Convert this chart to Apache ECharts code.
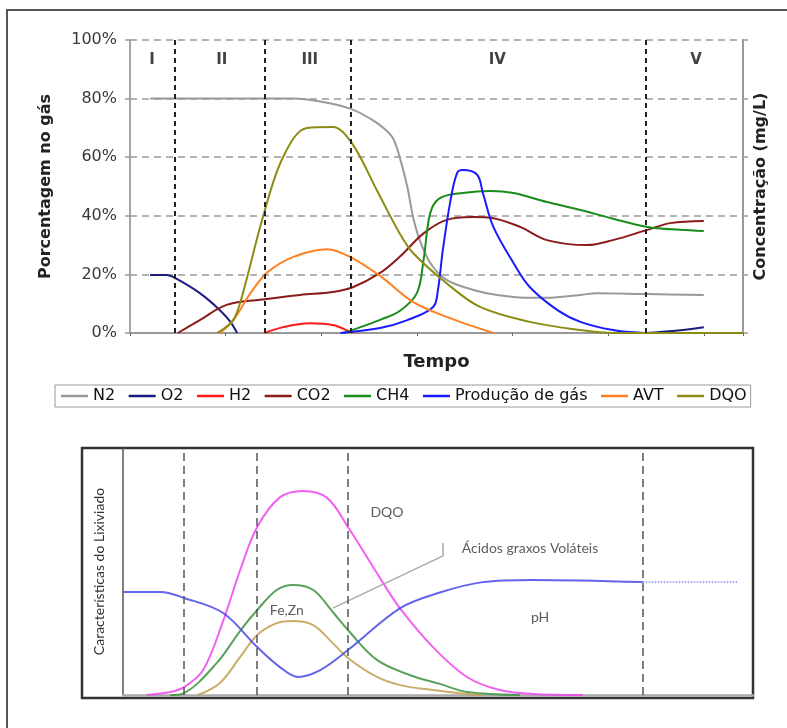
<!DOCTYPE html>
<html>
<head>
<meta charset="utf-8">
<script src="https://cdn.jsdelivr.net/npm/echarts@6/dist/echarts.min.js"></script>
<style>
  html, body { margin: 0; background: #fff; }
  #chart { width: 787px; height: 728px; }
</style>
</head>
<body>
<div id="chart"></div>
<script>
// ---- top chart: gas composition per phase (x = tempo, arbitrary units) ----
const phaseBounds = [0.47, 1.41, 2.31, 5.39];
const phaseNames = ['I', 'II', 'III', 'IV', 'V'];
const phaseNamePos = [0.23, 0.96, 1.88, 3.84, 5.92];
const pctTicks = [0, 20, 40, 60, 80, 100];

const n2T = [0.21, 0.8, 1.4, 1.71, 1.99, 2.31, 2.52, 2.65, 2.75, 2.82, 2.9, 2.96, 3.03, 3.14, 3.31, 3.59, 3.84, 4.18, 4.36, 4.71, 4.88, 5.41, 6.0];
const n2V = [80, 80, 80, 80, 79, 76.5, 73, 70, 66.5, 60, 49.9, 39.6, 31.7, 23.9, 18.1, 14.7, 13, 12, 12, 13, 13.6, 13.3, 13];

const o2T = [0.21, 0.38, 0.47, 0.73, 0.94, 1.05, 1.12, 1.2, 5.39, 5.7, 6.0];
const o2V = [19.8, 19.8, 18.8, 13.6, 7.8, 3.8, 0, '-', 0, 0.8, 2];

const h2T = [1.41, 1.6, 1.88, 2.12, 2.3, 2.33];
const h2V = [0, 2, 3.3, 2.7, 0.5, 0];

const co2T = [0.5, 0.73, 1.01, 1.41, 1.78, 2.12, 2.33, 2.615, 2.82, 3.07, 3.31, 3.59, 3.8, 4.08, 4.36, 4.78, 5.05, 5.41, 5.65, 6.0];
const co2V = [0, 4.4, 9.6, 11.5, 13, 14, 15.6, 20.5, 26, 34, 38.6, 39.6, 39.2, 36.2, 31.7, 30, 31.7, 35.2, 37.5, 38.2];

const ch4T = [2.23, 2.47, 2.615, 2.82, 3.0, 3.07, 3.14, 3.24, 3.48, 3.77, 4.01, 4.36, 4.71, 5.05, 5.41, 5.75, 6.0];
const ch4V = [0, 2.7, 4.5, 7.5, 13.6, 25, 41, 46, 47.8, 48.5, 47.8, 44.7, 42, 39, 36.2, 35.2, 34.8];

const gasT = [2.2, 2.615, 2.9, 3.17, 3.22, 3.27, 3.35, 3.42, 3.48, 3.63, 3.69, 3.8, 4.01, 4.18, 4.47, 4.71, 5.05, 5.37];
const gasV = [0, 1.7, 4.4, 8.9, 14.7, 28, 45, 54.6, 55.6, 54, 47.8, 36.2, 23.9, 15.7, 7.8, 3.8, 1, 0];

const avtT = [0.94, 1.08, 1.26, 1.44, 1.71, 2.06, 2.3, 2.615, 2.96, 3.31, 3.8];
const avtV = [0, 4.4, 13.6, 20.8, 26, 28.6, 26, 19.5, 10.6, 5.5, 0];

const dqoT = [0.91, 1.08, 1.18, 1.39, 1.6, 1.85, 2.12, 2.32, 2.58, 2.82, 2.96, 3.31, 3.66, 4.18, 4.71, 5.05, 6.41];
const dqoV = [0, 4.4, 13.6, 39.6, 60, 70, 70.3, 64.8, 48.8, 34, 27.3, 17, 8.9, 3.8, 1, 0, 0];

// ---- bottom chart: leachate characteristics ----
const lixBounds = [9.7, 21.3, 35.7, 82.5];

const lixDqoU = [3.8, 7.5, 9.7, 12.7, 15.9, 18.6, 21.3, 24.9, 28.6, 32.4, 35.7, 41.3, 44, 49.2, 54.6, 59.8, 65.1, 73];
const lixDqoV = [0, 1.2, 3.2, 10, 30, 50.6, 68, 80, 82.6, 79.8, 68, 45.3, 35, 19.4, 7.3, 2, 0.4, 0];

const acidosU = [7.5, 9.7, 14.9, 18.6, 21.3, 24.4, 27, 30.2, 33.3, 35.7, 40.3, 45.6, 50.3, 54.6, 63];
const acidosV = [0, 0.8, 13, 26, 34.4, 42.5, 44.5, 42.5, 33.6, 26.3, 14.2, 8, 4.5, 1.2, 0];

const feznU = [11.9, 15.4, 18.6, 21.3, 24.4, 27, 30.2, 33.3, 35.7, 40.3, 44, 49.2, 54.6, 57];
const feznV = [0, 4.9, 15.4, 24.3, 29.1, 30, 28.3, 21, 15, 7.3, 4, 2, 0.4, 0];

const phU = [0, 5.9, 9.7, 15.9, 21.3, 24.9, 27.8, 31.3, 35.7, 44, 50.3, 57.1, 65.1, 82.5];
const phV = [41.7, 41.7, 39.3, 33.2, 19.4, 11.3, 7.3, 10.1, 18.2, 35.2, 41.5, 45.7, 46.6, 45.7];
const phDotU = [82.5, 97.5];
const phDotV = [45.7, 45.7];

const lixLabels = ['DQO', 'Ácidos graxos Voláteis', 'Fe,Zn', 'pH'];
const lixLabelU = [41.9, 64.6, 26, 66.2];
const lixLabelV = [73.7, 59.5, 34.4, 31.2];
const leaderU = [33.3, 50.8, 50.8];
const leaderV = [35.2, 56.3, 61.5];

const pairs = (xs, ys) => xs.map((x, i) => [x, ys[i]]);

const chart = echarts.init(document.getElementById('chart'));

const topLine = (name, xs, ys, color) => ({
  name: name,
  type: 'line',
  xAxisIndex: 0,
  yAxisIndex: 0,
  data: pairs(xs, ys),
  smooth: 0.35,
  symbol: 'none',
  color: color,
  lineStyle: { width: 2, color: color }
});

const lixLine = (name, xs, ys, color) => ({
  name: name,
  type: 'line',
  xAxisIndex: 1,
  yAxisIndex: 2,
  data: pairs(xs, ys),
  smooth: 0.35,
  symbol: 'none',
  lineStyle: { width: 2, color: color, opacity: 0.85 }
});

const vLines = (vals, color, dash) => ({
  silent: true,
  symbol: ['none', 'none'],
  label: { show: false },
  lineStyle: { color: color, width: 2, type: dash },
  data: vals.map(v => ({ xAxis: v }))
});

const dqoSeries = topLine('DQO', dqoT, dqoV, '#8c8c14');
dqoSeries.markLine = vLines(phaseBounds, '#222', [5, 4]);

const phSeries = lixLine('pH', phU, phV, '#4848e8');
phSeries.markLine = vLines(lixBounds, '#555', [8, 5]);
phSeries.markLine.lineStyle.width = 1.5;

const option = {
  backgroundColor: '#fff',
  animation: false,
  textStyle: { fontFamily: 'DejaVu Sans' },
  legend: {
    data: ['N2', 'O2', 'H2', 'CO2', 'CH4', 'Produção de gás', 'AVT', 'DQO'],
    left: 55,
    top: 385,
    padding: [2, 4, 2, 6],
    icon: 'rect',
    itemWidth: 27,
    itemHeight: 2.5,
    itemGap: 13.5,
    borderColor: '#999',
    borderWidth: 1,
    textStyle: { fontSize: 16, color: '#111', fontFamily: 'DejaVu Sans', lineHeight: 18 }
  },
  grid: [
    { left: 130, right: 44, top: 40, bottom: 395 },
    { left: 123, right: 34, top: 448, bottom: 33 }
  ],
  xAxis: [
    {
      type: 'value', gridIndex: 0, min: 0, max: 6.41, interval: 1,
      name: 'Tempo', nameLocation: 'middle', nameGap: 20,
      nameTextStyle: { fontWeight: 'bold', fontSize: 18, color: '#222' },
      axisLine: { lineStyle: { color: '#999', width: 2 } },
      axisTick: { show: true, length: 3, lineStyle: { color: '#666' } },
      axisLabel: { show: false },
      splitLine: { show: false }
    },
    {
      type: 'value', gridIndex: 1, min: 0, max: 100,
      axisLine: { lineStyle: { color: '#aaa', width: 2.5 } },
      axisTick: { show: false },
      axisLabel: { show: false },
      splitLine: { show: false }
    }
  ],
  yAxis: [
    {
      type: 'value', gridIndex: 0, min: pctTicks[0], max: pctTicks[pctTicks.length - 1], interval: 20,
      name: 'Porcentagem no gás', nameLocation: 'middle', nameGap: 76, nameRotate: 90,
      nameTextStyle: { fontWeight: 'bold', fontSize: 16, color: '#222' },
      axisLine: { show: true, lineStyle: { color: '#888', width: 1.5 } },
      axisTick: { show: true, length: 5, lineStyle: { color: '#999', width: 1.5 } },
      axisLabel: { formatter: '{value}%', fontSize: 16, color: '#3a3a3a', margin: 13 },
      splitLine: { show: true, lineStyle: { color: '#9a9a9a', width: 1.5, type: [7, 5] } }
    },
    {
      type: 'value', gridIndex: 0, position: 'right', min: 0, max: 100, interval: 20,
      name: 'Concentração (mg/L)', nameLocation: 'middle', nameGap: 10, nameRotate: 90,
      nameTextStyle: { fontWeight: 'bold', fontSize: 16, color: '#222' },
      axisLine: { show: true, lineStyle: { color: '#999', width: 2 } },
      axisTick: { show: true, length: 5, lineStyle: { color: '#999', width: 1.5 } },
      axisLabel: { show: false },
      splitLine: { show: false }
    },
    {
      type: 'value', gridIndex: 1, min: 0, max: 100,
      name: 'Características do Lixiviado', nameLocation: 'middle', nameGap: 17, nameRotate: 90,
      nameTextStyle: { fontSize: 14, color: '#333', fontFamily: 'Lato' },
      axisLine: { show: true, lineStyle: { color: '#555', width: 1.5 } },
      axisTick: { show: false },
      axisLabel: { show: false },
      splitLine: { show: false }
    }
  ],
  graphic: [
    { type: 'rect', shape: { x: 7, y: 10, width: 900, height: 900 }, style: { fill: 'none', stroke: '#555', lineWidth: 2 }, z: 0, silent: true },
    { type: 'rect', shape: { x: 82, y: 448, width: 671, height: 250 }, style: { fill: 'none', stroke: '#333', lineWidth: 2.5 }, z: 0, silent: true }
  ],
  series: [
    topLine('N2', n2T, n2V, '#999999'),
    topLine('O2', o2T, o2V, '#1a1a80'),
    topLine('H2', h2T, h2V, '#ff1a1a'),
    topLine('CO2', co2T, co2V, '#8b1a1a'),
    topLine('CH4', ch4T, ch4V, '#1a8c1a'),
    topLine('Produção de gás', gasT, gasV, '#1a1aff'),
    topLine('AVT', avtT, avtV, '#ff8020'),
    dqoSeries,
    {
      name: 'fases',
      type: 'scatter',
      xAxisIndex: 0,
      yAxisIndex: 0,
      symbolSize: 1,
      silent: true,
      itemStyle: { color: 'rgba(0,0,0,0)' },
      label: { show: true, position: 'inside', formatter: p => p.name, fontWeight: 'bold', fontSize: 15, color: '#111' },
      data: phaseNames.map((n, i) => ({ name: n, value: [phaseNamePos[i], 93.2] }))
    },
    lixLine('DQO lix', lixDqoU, lixDqoV, '#ee44ee'),
    lixLine('Ácidos', acidosU, acidosV, '#3d9140'),
    lixLine('Fe,Zn', feznU, feznV, '#c0a050'),
    phSeries,
    {
      name: 'pH pontilhado',
      type: 'line',
      xAxisIndex: 1,
      yAxisIndex: 2,
      data: pairs(phDotU, phDotV),
      symbol: 'none',
      lineStyle: { width: 1.5, color: '#6a6af0', type: 'dotted', opacity: 0.8 }
    },
    {
      name: 'guia',
      type: 'line',
      xAxisIndex: 1,
      yAxisIndex: 2,
      data: pairs(leaderU, leaderV),
      symbol: 'none',
      lineStyle: { width: 1.5, color: '#aaa' }
    },
    {
      name: 'rotulos',
      type: 'scatter',
      xAxisIndex: 1,
      yAxisIndex: 2,
      symbolSize: 1,
      silent: true,
      itemStyle: { color: 'rgba(0,0,0,0)' },
      label: { show: true, position: 'inside', formatter: p => p.name, fontSize: 14, color: '#333', fontFamily: 'Lato' },
      data: lixLabels.map((n, i) => ({ name: n, value: [lixLabelU[i], lixLabelV[i]] }))
    }
  ]
};

chart.setOption(option);
</script>
</body>
</html>
